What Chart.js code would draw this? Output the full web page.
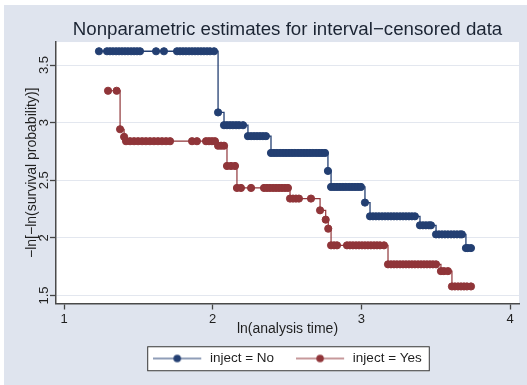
<!DOCTYPE html>
<html>
<head>
<meta charset="utf-8">
<script src="https://cdn.jsdelivr.net/npm/chart.js@4.4.1/dist/chart.umd.min.js"></script>
<style>
	body { margin: 0; background: #fff; }
	canvas { display: block; }
</style>
</head>
<body>
<canvas id="survChart" width="527" height="385"></canvas>
<script>
// tick positions
let xTicks = [1, 2, 3, 4];
let yTicks = [1.5, 2, 2.5, 3, 3.5];
let seriesNames = ["inject = No", "inject = Yes"];

// inject = No : step levels of -ln[-ln S] and ln(time) of the points at each level
let noLevels = [3.62, 3.089, 2.978, 2.883, 2.737, 2.581, 2.442, 2.306, 2.187, 2.109, 2.030, 1.911];
let noTimes = [
	[1.235, 1.289, 1.309, 1.329, 1.350, 1.370, 1.390, 1.410, 1.430, 1.451, 1.471, 1.491, 1.511, 1.619, 1.672,
		1.760, 1.780, 1.800, 1.820, 1.841, 1.861, 1.881, 1.901, 1.921, 1.941, 1.962, 1.982, 2.009],
	[2.036],
	[2.076, 2.096, 2.116, 2.136, 2.157, 2.177, 2.204],
	[2.237, 2.258, 2.278, 2.298, 2.318, 2.338, 2.358],
	[2.392, 2.412, 2.432, 2.453, 2.473, 2.493, 2.513, 2.533, 2.553, 2.574, 2.594, 2.614, 2.634, 2.654, 2.674,
		2.695, 2.715, 2.735, 2.755],
	[2.775],
	[2.796, 2.816, 2.836, 2.856, 2.876, 2.896, 2.917, 2.937, 2.957, 2.977, 2.997],
	[3.024],
	[3.058, 3.078, 3.098, 3.118, 3.139, 3.159, 3.179, 3.199, 3.219, 3.239, 3.260, 3.280, 3.300, 3.320, 3.340, 3.360],
	[3.394, 3.414, 3.434, 3.454, 3.468],
	[3.502, 3.522, 3.542, 3.562, 3.582, 3.603, 3.623, 3.643, 3.663, 3.676],
	[3.703, 3.716, 3.737]
];

// inject = Yes
let yesLevels = [3.277, 2.943, 2.877, 2.839, 2.80, 2.624, 2.433, 2.341, 2.239, 2.158, 2.080, 1.935, 1.770, 1.711, 1.578];
let yesTimes = [
	[1.296, 1.354],
	[1.377],
	[1.404],
	[1.417, 1.444, 1.471, 1.498, 1.525, 1.551, 1.578, 1.605, 1.632, 1.659, 1.686, 1.713, 1.861, 1.894,
		1.955, 1.975, 1.995, 2.015],
	[2.036, 2.056, 2.076],
	[2.096, 2.123, 2.150],
	[2.163, 2.190, 2.258, 2.345, 2.365, 2.385, 2.406, 2.426, 2.446, 2.466, 2.486, 2.506],
	[2.520, 2.540, 2.560, 2.580, 2.661],
	[2.722],
	[2.760],
	[2.777],
	[2.796, 2.816, 2.836, 2.903, 2.923, 2.943, 2.964, 2.984, 3.004, 3.024, 3.044, 3.064, 3.085, 3.105, 3.125, 3.152],
	[3.179, 3.199, 3.219, 3.239, 3.260, 3.280, 3.300, 3.320, 3.340, 3.360, 3.381, 3.401, 3.421, 3.441, 3.461, 3.481, 3.502],
	[3.535, 3.555, 3.582],
	[3.609, 3.629, 3.650, 3.670, 3.690, 3.710, 3.737]
];

let navy = "#233f72";
let maroon = "#903539";
let bluishGray = "#dfe4ee";
let textColor = "#1f1f1f";

let toPoints = function (levels, times) {
	return times.flatMap(function (xs, i) {
		return xs.map(function (x) { return { x: x, y: levels[i] }; });
	});
};

// line with a dot, for the legend keys
let legendMark = function (color) {
	let c = document.createElement("canvas");
	c.width = 50;
	c.height = 10;
	let g = c.getContext("2d");
	g.strokeStyle = color;
	g.lineWidth = 1.2;
	g.beginPath();
	g.moveTo(0, 5);
	g.lineTo(48, 5);
	g.stroke();
	g.fillStyle = color;
	g.beginPath();
	g.arc(24, 5, 3.8, 0, Math.PI * 2);
	g.fill();
	return c;
};

let backdrop = {
	id: "backdrop",
	beforeDraw: function (chart) {
		let ctx = chart.ctx;
		let area = chart.chartArea;
		ctx.save();
		ctx.fillStyle = "#fff";
		ctx.fillRect(0, 0, chart.width, chart.height);
		ctx.fillStyle = bluishGray;
		ctx.fillRect(4, 5, chart.width - 4, chart.height - 5);
		ctx.fillStyle = "#fff";
		ctx.fillRect(area.left, area.top, area.right - area.left, area.bottom - area.top);

		let boxes = chart.legend.legendHitBoxes;
		if (boxes && boxes.length) {
			let first = boxes[0], last = boxes[boxes.length - 1];
			let left = first.left - 6;
			let right = last.left + last.width + 8;
			let top = first.top - 5.5;
			let bottom = first.top + first.height + 6;
			ctx.fillStyle = "#fff";
			ctx.fillRect(left, top, right - left, bottom - top);
			ctx.strokeStyle = "#333";
			ctx.lineWidth = 1;
			ctx.strokeRect(left + 0.5, top + 0.5, right - left - 1, bottom - top - 1);
		}
		ctx.restore();
	}
};

Chart.defaults.font.family = '"Liberation Sans", Arial, Helvetica, sans-serif';
Chart.defaults.color = textColor;

let chart = new Chart("survChart", {
	type: "scatter",
	data: {
		datasets: [{
			label: seriesNames[0],
			data: toPoints(noLevels, noTimes),
			showLine: true,
			stepped: true,
			borderColor: navy,
			backgroundColor: navy,
			borderWidth: 1.3,
			pointRadius: 3.6,
			pointBorderWidth: 1
		}, {
			label: seriesNames[1],
			data: toPoints(yesLevels, yesTimes),
			showLine: true,
			stepped: true,
			borderColor: maroon,
			backgroundColor: maroon,
			borderWidth: 1.2,
			pointRadius: 3.6,
			pointBorderWidth: 1
		}]
	},
	options: {
		responsive: false,
		animation: false,
		events: [],
		layout: { padding: { left: 0, right: 8, top: 0, bottom: 9.75 } },
		plugins: {
			title: {
				display: true,
				fullSize: false,
				text: "Nonparametric estimates for interval\u2212censored data",
				color: "#1b2433",
				font: { size: 18.7, weight: "normal" },
				padding: { top: 18.6, bottom: 1 }
			},
			legend: {
				position: "bottom",
				fullSize: false,
				labels: {
					usePointStyle: true,
					pointStyleWidth: 50,
					padding: 22, // also the gap between the two keys
					color: textColor,
					font: { size: 13.5 },
					generateLabels: function (chart) {
						return chart.data.datasets.map(function (ds, i) {
							return {
								text: ds.label,
								pointStyle: legendMark(ds.borderColor),
								fillStyle: ds.borderColor,
								strokeStyle: ds.borderColor,
								lineWidth: 1,
								hidden: false,
								datasetIndex: i,
								fontColor: textColor
							};
						});
					}
				}
			},
			tooltip: { enabled: false }
		},
		scales: {
			x: {
				type: "linear",
				min: 0.946,
				max: 4.06,
				afterBuildTicks: function (s) { s.ticks = xTicks.map(function (v) { return { value: v }; }); },
				afterFit: function (s) { s.height = 26.25; },
				grid: { drawOnChartArea: false, drawTicks: true, tickLength: 6, tickColor: "#444", tickWidth: 1.3 },
				border: { display: true, color: "#4a4a4a", width: 1.5 },
				ticks: { padding: 2.5, color: textColor, font: { size: 13 } },
				title: {
					display: true,
					text: "ln(analysis time)",
					color: textColor,
					font: { size: 14 },
					padding: { top: 0, bottom: -8.15 }
				}
			},
			y: {
				type: "linear",
				min: 1.43,
				max: 3.70,
				afterBuildTicks: function (s) { s.ticks = yTicks.map(function (v) { return { value: v }; }); },
				afterFit: function (s) { s.width = 56; },
				grid: { color: "#e3e7ef", lineWidth: 1, drawTicks: true, tickLength: 6, tickColor: "#444", tickWidth: 1.3 },
				border: { display: true, color: "#4a4a4a", width: 1.5 },
				ticks: {
					minRotation: 90,
					maxRotation: 90,
					crossAlign: "center",
					padding: -3.5,
					color: textColor,
					font: { size: 13 },
					callback: function (v) { return String(v); }
				},
				title: {
					display: true,
					text: "\u2212ln[\u2212ln(survival probability)]",
					color: textColor,
					font: { size: 14 },
					padding: { top: 23.6, bottom: 0 }
				}
			}
		}
	},
	plugins: [backdrop]
});
</script>
</body>
</html>
